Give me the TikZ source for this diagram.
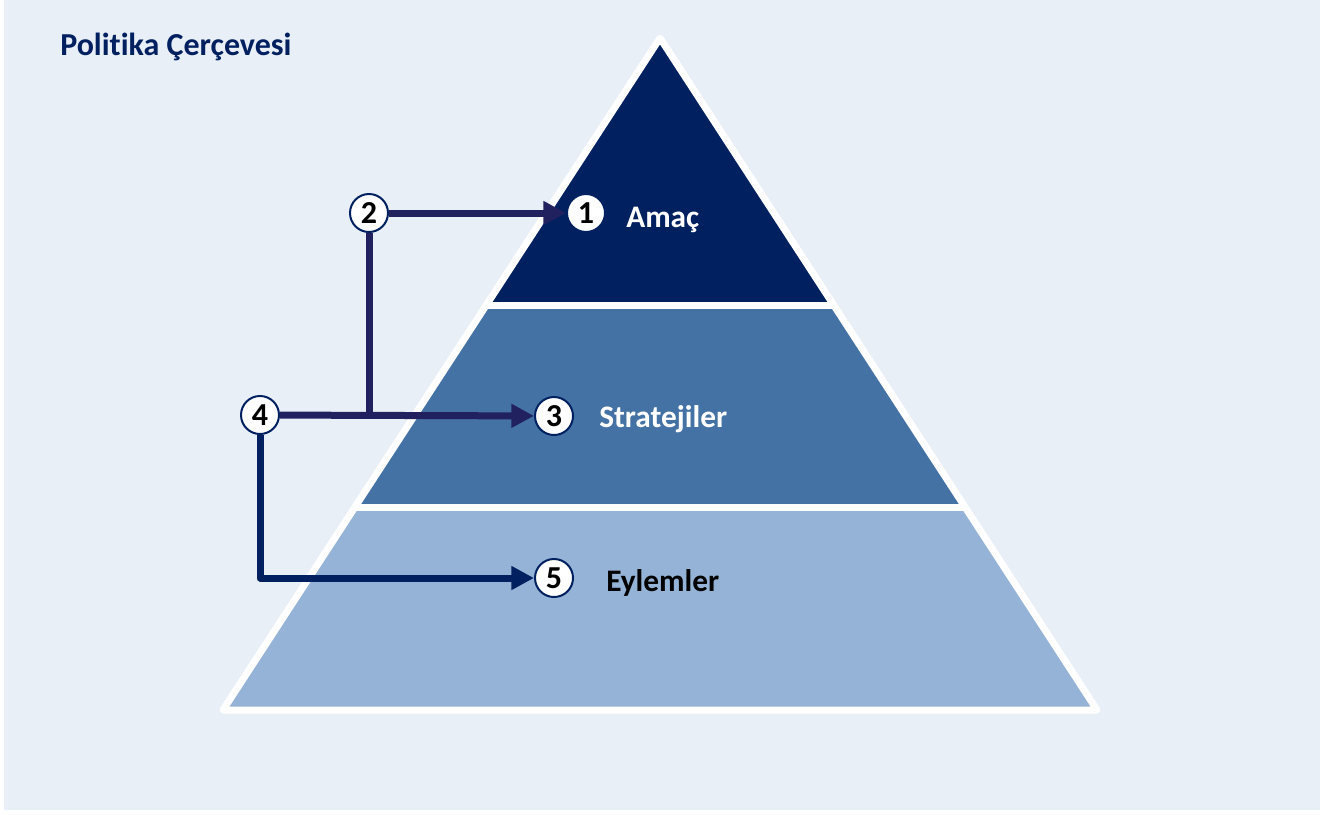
\documentclass[tikz,border=0pt]{standalone}
\usepackage{fontspec}
\setmainfont{Carlito}[Ligatures=NoCommon]
\usetikzlibrary{arrows.meta}
\definecolor{bgblue}{HTML}{E9EFF7}
\definecolor{navy}{HTML}{002060}
\definecolor{midblue}{HTML}{4472A4}
\definecolor{lightblue}{HTML}{95B3D7}
\definecolor{linkblue}{HTML}{22215F}
\tikzset{
  numnode/.style = {circle, draw=navy, line width=1.5pt, fill=white, minimum size=28.5pt, inner sep=0pt, font=\bfseries\fontsize{24}{24}\selectfont},
  tiertext/.style = {anchor=west, inner sep=0pt, font=\bfseries\fontsize{23.5}{24}\selectfont},
  link/.style = {draw=linkblue, line width=5.25pt, line join=round, -{Triangle[length=17pt,width=17pt]}},
  gap/.style = {white, line width=5.25pt},
}

\begin{document}
\begin{tikzpicture}[x=0.75pt,y=-0.75pt]
\useasboundingbox (0,0) rectangle (1337,814);
\fill[bgblue] (4,0) rectangle (1320,810);
\node[anchor=base west, inner sep=0pt, text=navy, font=\bfseries\fontsize{24}{24}\selectfont] (title) at (60,55) {Politika Çerçevesi};
% pyramid
\coordinate (apex) at (660,38);
\coordinate (bl) at (223,710);
\coordinate (br) at (1097,710);
\begin{scope}
  \clip (apex) -- (bl) -- (br) -- cycle;
  \fill[lightblue] (0,0) rectangle (1337,814);
  \fill[midblue] (0,0) rectangle (1337,507);
  \fill[navy] (0,0) rectangle (1337,305);
  \draw[gap] (0,305) -- (1337,305) (0,507.5) -- (1337,507.5);
\end{scope}
\draw[gap, line join=round] (apex) -- (bl) -- (br) -- cycle;
\node[tiertext, text=white] (goal) at (626,220) {Amaç};
\node[tiertext, text=white] (strat) at (599,419) {Stratejiler};
\node[tiertext] (act) at (606,583) {Eylemler};
\node[numnode] (n1) at (586,213) {1};
\node[numnode] (n2) at (369,213) {2};
\node[numnode] (n3) at (554,416) {3};
\node[numnode] (n4) at (260,415) {4};
\node[numnode] (n5) at (554,578) {5};
\coordinate (join) at (n2 |- n4);
\draw[link] (n2) -- (n1);
\draw[link] (n4) -- (n3);
\draw[link, -] (n2) -- (join);
\draw[link, draw=navy] (n4) |- (n5);
\end{tikzpicture}
\end{document}
